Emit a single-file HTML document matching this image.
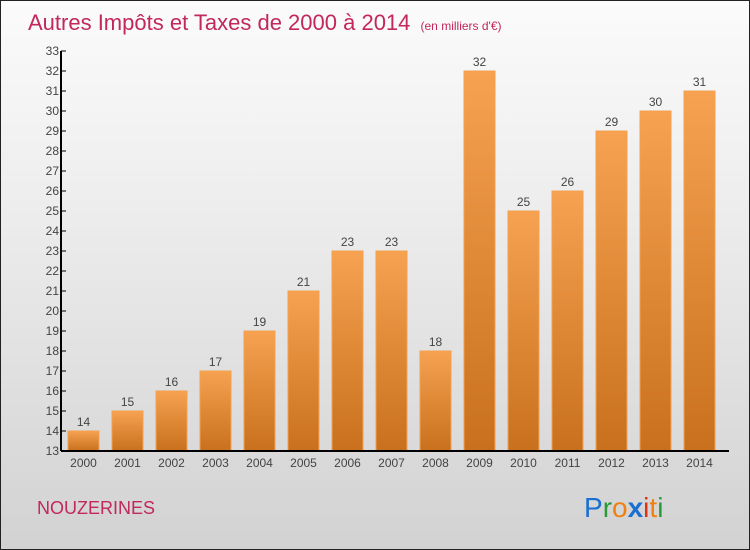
<!DOCTYPE html>
<html><head><meta charset="utf-8"><style>
body{margin:0;}
#root{width:750px;height:550px;position:relative;overflow:hidden;box-sizing:border-box;border:1px solid #222;background:linear-gradient(#fbfbfb 0%,#ececec 40%,#d2d2d2 100%);font-family:"Liberation Sans",sans-serif;}
</style></head><body>
<div id="root">
<svg width="750" height="550" style="position:absolute;left:0;top:0" id="svg">
<defs><linearGradient id="bg" x1="0" y1="0" x2="0" y2="1"><stop offset="0" stop-color="#f6a250"/><stop offset="1" stop-color="#c8701e"/></linearGradient></defs>
<text x="27" y="29" font-size="22" fill="#c2285a">Autres Impôts et Taxes de 2000 à 2014 <tspan font-size="12" dx="4">(en milliers d'€)</tspan></text>
<g id="plot"></g>
<text x="36" y="513" font-size="18" fill="#c2285a">NOUZERINES</text>
<g font-size="28" font-family="'Liberation Sans',sans-serif">
<text x="583" y="516"><tspan fill="#1a6fd0">P</tspan><tspan fill="#2a9a3a">r</tspan><tspan fill="#f08010">o</tspan><tspan fill="#1a6fd0" font-weight="bold">x</tspan><tspan fill="#e03010">i</tspan><tspan fill="#f08010">t</tspan><tspan fill="#2a9a3a">i</tspan></text>
</g>
</svg>
</div>
<script>
const years=["2000","2001","2002","2003","2004","2005","2006","2007","2008","2009","2010","2011","2012","2013","2014"];
const values=[14,15,16,17,19,21,23,23,18,32,25,26,29,30,31];
const yTicks=[13,14,15,16,17,18,19,20,21,22,23,24,25,26,27,28,29,30,31,32,33];
const NS="http://www.w3.org/2000/svg";
const g=document.getElementById('plot');
const x0=60,yBase=450,yMin=13,pxU=20;
const y=v=>yBase-(v-yMin)*pxU;
const xc=i=>82.5+i*44;
function mk(t,a){const e=document.createElementNS(NS,t);for(const k in a)e.setAttribute(k,a[k]);g.appendChild(e);return e;}
values.forEach((v,i)=>{
 const r=mk('rect',{x:xc(i)-15.5,y:y(v),width:31,height:yBase-y(v),fill:'url(#bg)',stroke:'#f3a050','stroke-width':1});
 
 
 const t=mk('text',{x:xc(i),y:y(v)-5,'font-size':12,fill:'#444','text-anchor':'middle'});
 t.textContent=v;
 
 
 const xl=mk('text',{x:xc(i),y:466,'font-size':12,fill:'#444','text-anchor':'middle'});
 xl.textContent=years[i];
 
 
});
yTicks.forEach(v=>{
 const l=mk('line',{x1:x0,x2:x0+5,y1:y(v),y2:y(v),stroke:'#000','stroke-width':1});
 
 
 const t=mk('text',{x:x0-2,y:y(v)+4,'font-size':12,fill:'#444','text-anchor':'end'});
 t.textContent=v;
 
 
});
const ya=mk('line',{x1:x0,x2:x0,y1:y(33),y2:yBase,stroke:'#000','stroke-width':2});


const xa=mk('line',{x1:x0,x2:728,y1:yBase,y2:yBase,stroke:'#000','stroke-width':2});


</script>
</body></html>
